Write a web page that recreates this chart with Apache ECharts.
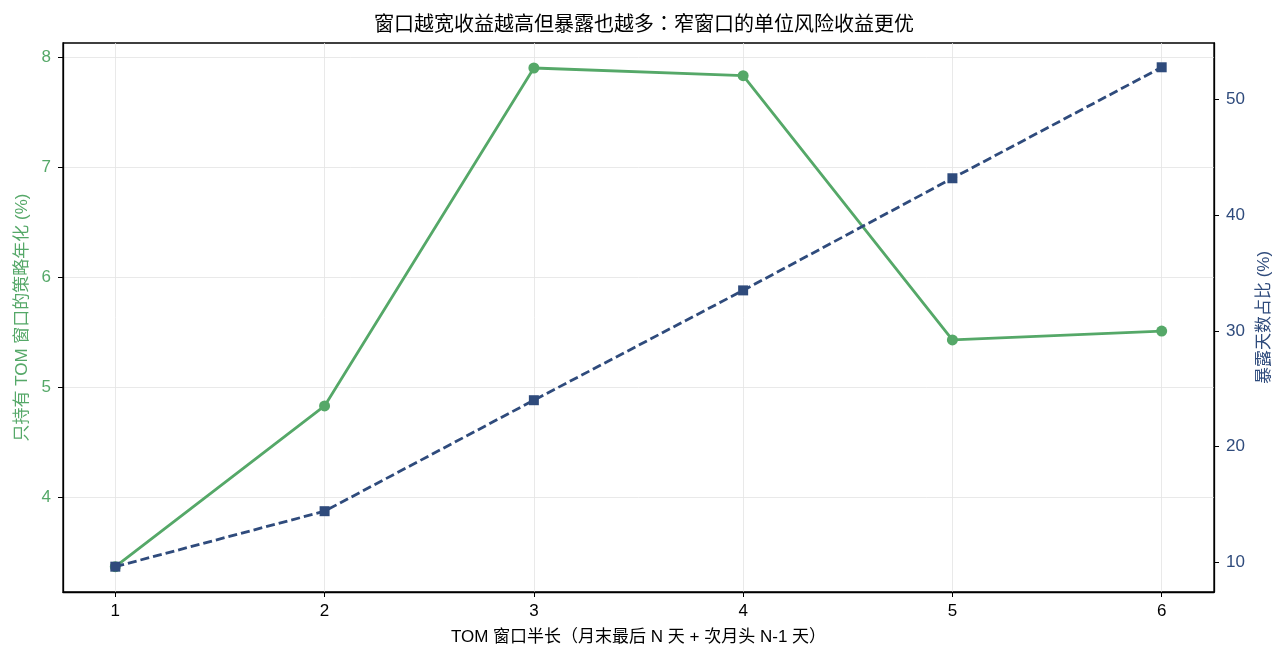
<!DOCTYPE html>
<html>
<head>
<meta charset="utf-8">
<script src="https://cdn.jsdelivr.net/npm/echarts@6/dist/echarts.min.js"></script>
<style>html,body{margin:0;padding:0;background:#fff}#c{width:1285px;height:662px}</style>
</head>
<body>
<div id="c"></div>
<script>
const windowN = [1, 2, 3, 4, 5, 6];
const annualReturn = [3.37, 4.83, 7.90, 7.83, 5.43, 5.51];
const exposurePct = [9.6, 14.4, 24.0, 33.5, 43.2, 52.8];
const xTicks = [1, 2, 3, 4, 5, 6];
const leftTicks = [4, 5, 6, 7, 8];
const rightTicks = [10, 20, 30, 40, 50];

const GREEN = '#55a868';
const BLUE = '#2f4b7c';
const FONT = '"Liberation Sans", "Noto Sans CJK SC", sans-serif';
const FONT_TC = '"Liberation Sans", "Noto Sans CJK TC", sans-serif';
const FS = 17;

const chart = echarts.init(document.getElementById('c'));
const intOnly = v => (Math.abs(v - Math.round(v)) < 1e-9 ? String(Math.round(v)) : '');

chart.setOption({
  backgroundColor: '#fff',
  animation: false,
  textStyle: { fontFamily: FONT },
  title: {
    text: '窗口越宽收益越高但暴露也越多：窄窗口的单位风险收益更优',
    left: 639, top: 10, textAlign: 'center',
    textStyle: { fontSize: 20, fontWeight: 'normal', color: '#000', fontFamily: FONT_TC }
  },
  grid: {
    left: 63, right: 71, top: 43, bottom: 70, containLabel: false,
    outerBoundsMode: 'none',
    show: true, borderColor: '#000', borderWidth: 1.3, backgroundColor: 'transparent'
  },
  xAxis: {
    type: 'value', min: 0.75, max: 6.25, splitNumber: 5,
    name: 'TOM 窗口半长（月末最后 N 天 + 次月头 N-1 天）',
    nameLocation: 'middle', nameGap: 37,
    nameTextStyle: { fontSize: FS, color: '#000', fontFamily: FONT_TC },
    axisLine: { show: true, onZero: false, lineStyle: { color: '#000', width: 1.3 } },
    axisTick: { show: true, length: 5, customValues: xTicks, lineStyle: { color: '#000', width: 1 } },
    axisLabel: { fontSize: FS, color: '#000', margin: 11, customValues: xTicks, formatter: intOnly },
    splitLine: { show: true, lineStyle: { color: '#e3e3e3', width: 0.8 } }
  },
  yAxis: [
    {
      type: 'value', position: 'left', min: 3.14, max: 8.127, splitNumber: 5,
      name: '只持有 TOM 窗口的策略年化 (%)',
      nameLocation: 'middle', nameGap: 28, nameRotate: 90,
      nameTextStyle: { fontSize: FS, color: GREEN, fontFamily: FONT },
      axisLine: { show: true, onZero: false, lineStyle: { color: '#000', width: 1.3 } },
      axisTick: { show: true, length: 5, customValues: leftTicks, lineStyle: { color: '#000', width: 1 } },
      axisLabel: { fontSize: FS, color: GREEN, margin: 12, customValues: leftTicks, formatter: intOnly },
      splitLine: { show: true, lineStyle: { color: '#e3e3e3', width: 0.8 } }
    },
    {
      type: 'value', position: 'right', min: 7.41, max: 54.9, splitNumber: 5,
      name: '暴露天数占比 (%)',
      nameLocation: 'middle', nameGap: 39, nameRotate: 90,
      nameTextStyle: { fontSize: FS, color: BLUE, fontFamily: FONT },
      axisLine: { show: true, onZero: false, lineStyle: { color: '#000', width: 1.3 } },
      axisTick: { show: true, length: 5, customValues: rightTicks, lineStyle: { color: '#000', width: 1 } },
      axisLabel: { fontSize: FS, color: BLUE, margin: 12, customValues: rightTicks, formatter: v => (Math.abs(v % 10) < 1e-9 ? String(v) : '') },
      splitLine: { show: false }
    }
  ],
  series: [
    {
      type: 'line', yAxisIndex: 0,
      data: windowN.map((x, i) => [x, annualReturn[i]]),
      symbol: 'circle', symbolSize: 11,
      lineStyle: { color: GREEN, width: 2.8 },
      itemStyle: { color: GREEN },
      z: 2
    },
    {
      type: 'line', yAxisIndex: 1,
      data: windowN.map((x, i) => [x, exposurePct[i]]),
      symbol: 'rect', symbolSize: 10,
      lineStyle: { color: BLUE, width: 2.8, type: [9, 4] },
      itemStyle: { color: BLUE },
      z: 3
    }
  ]
});
</script>
</body>
</html>
